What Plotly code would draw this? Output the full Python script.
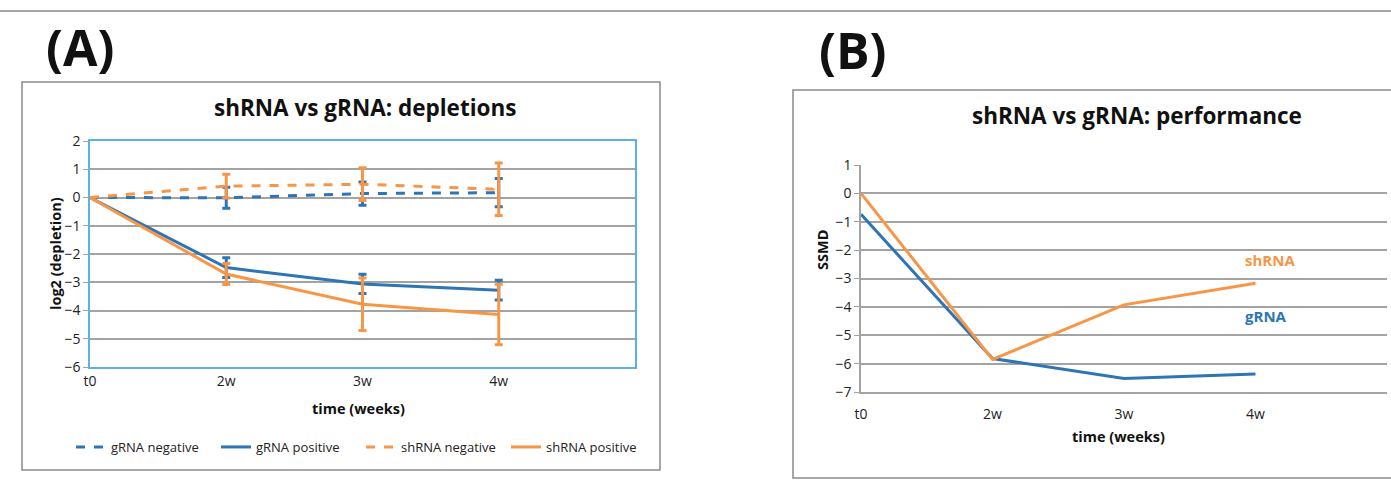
import plotly.graph_objects as go

W, H = 1391, 482

# ---------------- data ----------------
categories = ["t0", "2w", "3w", "4w"]

# Panel A: log2 depletion with error bars
gRNA_negative = [0.0, -0.01, 0.14, 0.17]
gRNA_negative_err = [0.0, 0.37, 0.41, 0.50]
gRNA_positive = [0.0, -2.48, -3.06, -3.28]
gRNA_positive_err = [0.0, 0.35, 0.34, 0.35]
shRNA_negative = [0.0, 0.40, 0.47, 0.29]
shRNA_negative_err = [0.0, 0.42, 0.58, 0.93]
shRNA_positive = [0.0, -2.71, -3.78, -4.14]
shRNA_positive_err = [0.0, 0.37, 0.93, 1.07]

# Panel B: SSMD performance
ssmd_shRNA = [0.0, -5.85, -3.93, -3.17]
ssmd_gRNA = [-0.74, -5.82, -6.52, -6.37]

BLUE = "#2e75b6"
ORANGE = "#f79646"
GRID = "#a3a3a3"
BOXBLUE = "#5ab4e3"
FONT = "Open Sans"

def px(x):
    return x / W

def py(y):
    return 1 - y / H

xi = list(range(len(categories)))

fig = go.Figure()

def add_a(name, y, err, color, dash):
    fig.add_trace(go.Scatter(
        x=xi, y=y, name=name, mode="lines",
        line=dict(color=color, width=3, dash=dash),
        error_y=dict(type="data", array=err, visible=True, color=color,
                     thickness=3, width=4),
        xaxis="x", yaxis="y", showlegend=True,
    ))

add_a("gRNA negative", gRNA_negative, gRNA_negative_err, BLUE, "dash")
add_a("gRNA positive", gRNA_positive, gRNA_positive_err, BLUE, "solid")
add_a("shRNA negative", shRNA_negative, shRNA_negative_err, ORANGE, "dash")
add_a("shRNA positive", shRNA_positive, shRNA_positive_err, ORANGE, "solid")

fig.add_trace(go.Scatter(x=xi, y=ssmd_gRNA, name="gRNA", mode="lines",
                         line=dict(color=BLUE, width=3), xaxis="x2", yaxis="y2",
                         showlegend=False))
fig.add_trace(go.Scatter(x=xi, y=ssmd_shRNA, name="shRNA", mode="lines",
                         line=dict(color=ORANGE, width=3), xaxis="x2", yaxis="y2",
                         showlegend=False))

tickfont = dict(family=FONT, size=14, color="#222")

fig.update_layout(
    width=W, height=H,
    margin=dict(l=0, r=0, t=0, b=0, autoexpand=False),
    paper_bgcolor="white", plot_bgcolor="white",
    font=dict(family=FONT, color="#222"),
    xaxis=dict(domain=[px(90), px(635)], range=[0, 4], tickvals=xi, ticktext=categories,
               showgrid=False, zeroline=False, showline=True, mirror=True,
               linecolor=BOXBLUE, linewidth=1.5, ticks="", tickfont=tickfont,
               anchor="y", automargin=False),
    yaxis=dict(domain=[py(367), py(141)], range=[-6, 2], dtick=1,
               showgrid=True, gridcolor=GRID, gridwidth=1.5, zeroline=False,
               showline=True, mirror=True, linecolor=BOXBLUE, linewidth=1.5,
               ticks="outside", ticklen=5, tickcolor=GRID, tickfont=tickfont,
               anchor="x", automargin=False),
    xaxis2=dict(domain=[px(861), px(1387)], range=[0, 4], tickvals=xi, ticktext=categories,
                showgrid=False, zeroline=False, showline=True, linecolor=GRID,
                linewidth=1.5, ticks="", tickfont=tickfont, ticklabelstandoff=8,
                anchor="y2", automargin=False),
    xaxis3=dict(domain=[px(861), px(1387)], range=[0, 4], tickvals=[1, 2, 3, 4],
                overlaying="x2", side="top", showgrid=False, zeroline=False,
                showline=False, ticks="outside", ticklen=5, tickcolor=GRID,
                showticklabels=False, anchor="y2", automargin=False),
    yaxis2=dict(domain=[py(392), py(165)], range=[-7, 1], dtick=1,
                showgrid=True, gridcolor=GRID, gridwidth=1.5, zeroline=False,
                showline=True, linecolor=GRID, linewidth=1.5,
                ticks="outside", ticklen=5, tickcolor=GRID, tickfont=tickfont,
                anchor="x2", automargin=False),
    legend=dict(orientation="h", x=px(361), y=py(447), xanchor="center", yanchor="middle",
                font=dict(family=FONT, size=13, color="#222"), bgcolor="rgba(0,0,0,0)",
                tracegroupgap=0, entrywidth=100, itemwidth=30),
    showlegend=True,
)

shapes = [
    dict(type="line", xref="paper", yref="paper", x0=0, x1=1, y0=py(11), y1=py(11),
         line=dict(color="#888", width=1.5)),
    dict(type="rect", xref="paper", yref="paper", x0=px(22), x1=px(660), y0=py(470), y1=py(82),
         line=dict(color="#8a8a8a", width=1.5)),
    dict(type="rect", xref="paper", yref="paper", x0=px(793), x1=px(1400), y0=py(478), y1=py(90),
         line=dict(color="#8a8a8a", width=1.5)),
]
fig.update_layout(shapes=shapes)

def ann(text, x, y, size, bold=True, color="#111", angle=0, xref="paper", yref="paper"):
    fig.add_annotation(text=f"<b>{text}</b>" if bold else text, x=x, y=y, xref=xref, yref=yref,
                       showarrow=False, textangle=angle, xanchor="center", yanchor="middle",
                       font=dict(family=FONT, size=size, color=color))

ann("(A)", px(80), py(47), 50)
ann("(B)", px(852), py(50), 50)
ann("shRNA vs gRNA: depletions", px(365), py(108), 22.5)
ann("shRNA vs gRNA: performance", px(1137), py(115), 22.5)
ann("log2 (depletion)", px(55), py(254), 14.5, angle=-90)
ann("time (weeks)", px(358), py(408), 14.5)
ann("SSMD", px(822), py(250), 14.5, angle=-90)
ann("time (weeks)", px(1118), py(436), 14.5)
ann("shRNA", 3.11, -2.36, 15, color=ORANGE, xref="x2", yref="y2")
ann("gRNA", 3.08, -4.33, 15, color=BLUE, xref="x2", yref="y2")

fig.write_html("out.html", post_script="document.body.style.margin='0px';",
               config={"displayModeBar": False})
